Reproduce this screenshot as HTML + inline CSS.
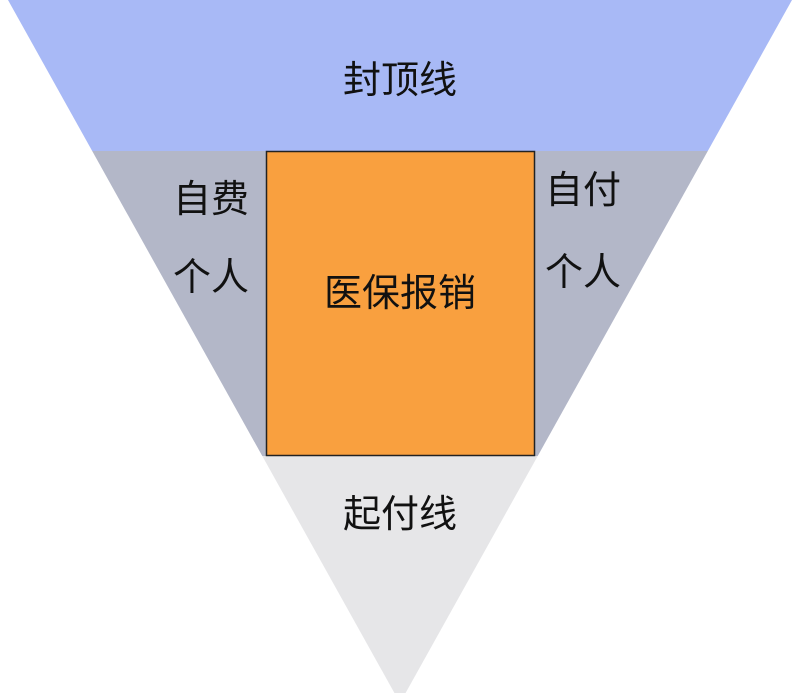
<!DOCTYPE html>
<html><head><meta charset="utf-8"><style>
body{margin:0;width:800px;height:693px;overflow:hidden;background:#fff;}
svg text{font-family:"Liberation Sans","Noto Sans CJK SC",sans-serif;fill:#111;}
</style></head><body>
<svg width="800" height="693" viewBox="0 0 800 693">
<defs><clipPath id="t"><polygon points="8,0 792,0 400,703"/></clipPath></defs>
<g clip-path="url(#t)">
<rect x="0" y="0" width="800" height="151" fill="#a8b9f6"/>
<rect x="0" y="151" width="800" height="305" fill="#b3b7c8"/>
<rect x="0" y="456" width="800" height="250" fill="#e6e6e8"/>
</g>
<rect x="266.5" y="151.5" width="268" height="304" fill="#f9a03f" stroke="#222" stroke-width="1.5"/>
<text x="400" y="93" font-size="38" text-anchor="middle">封顶线</text>
<text x="211" y="212" font-size="38" text-anchor="middle">自费</text>
<text x="211" y="290" font-size="38" text-anchor="middle">个人</text>
<text x="583" y="203" font-size="38" text-anchor="middle">自付</text>
<text x="583" y="285" font-size="38" text-anchor="middle">个人</text>
<text x="400" y="306" font-size="38" text-anchor="middle">医保报销</text>
<text x="400" y="527" font-size="38" text-anchor="middle">起付线</text>
</svg>
</body></html>
